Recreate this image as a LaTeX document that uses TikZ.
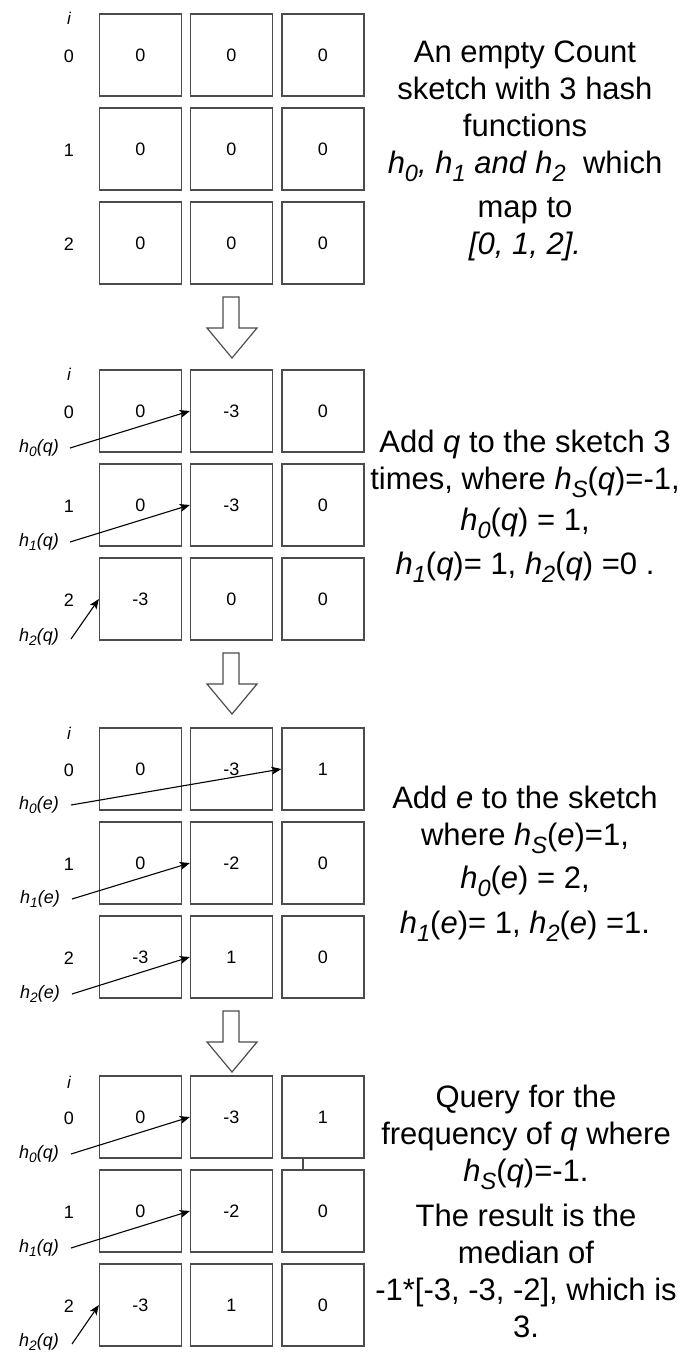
\documentclass[tikz,border=0pt]{standalone}
\usepackage{fontspec}
\setmainfont{Liberation Sans}
\usetikzlibrary{arrows.meta}
\newcommand\sbx[1]{\raisebox{-0.26em}{\scalebox{0.76}{#1}}}
\newcommand\hh[1]{\textit{h}\sbx{\textit{#1}}}
\newcommand\gridrow[6]{%
  \node[cell] (#1#2a) at (140.5,#3) {#4};
  \node[cell] (#1#2b) at (231.5,#3) {#5};
  \node[cell] (#1#2c) at (323,#3) {#6};
  \node[rowlab] (#1#2l) at (69,#3+1) {#2};
}
\newcommand\flowarrow[2]{%
  \draw[flow] (223,#2) -- (239,#2) -- (239,#2+31) -- (257,#2+31) -- (232,#2+61)
    -- (207,#2+31) -- (223,#2+31) -- cycle;
  \coordinate (#1) at (232,#2+61);
}
\begin{document}
\begin{tikzpicture}[x=1pt,y=-1pt,
  cell/.style={draw=black!70, line width=1.3pt, minimum width=82pt, minimum height=82pt,
    inner sep=0pt, font=\fontsize{18}{20}\selectfont},
  rowlab/.style={inner sep=0pt, font=\fontsize{18}{20}\selectfont},
  ilab/.style={inner sep=0pt, font=\fontsize{17}{20}\selectfont\itshape},
  hlab/.style={inner sep=0pt, anchor=east, font=\fontsize{18}{20}\selectfont\itshape},
  conn/.style={line width=1.1pt, -{Stealth[length=10pt,width=8pt,inset=2.5pt]}},
  flow/.style={draw=black!70, line width=1.2pt, fill=white, line join=miter},
  desc/.style={align=center, inner sep=0pt, anchor=north, font=\fontsize{31}{37}\selectfont}]
\useasboundingbox (0,0) rectangle (686,1352);

% ---------- section A ----------
\node[ilab] (Ai) at (69,18) {i};
\gridrow{A}{0}{55}{0}{0}{0}
\gridrow{A}{1}{149}{0}{0}{0}
\gridrow{A}{2}{243}{0}{0}{0}
\node[desc] (Adesc) at (525,41) {An empty Count\\
sketch with 3 hash\\
functions\\
\hh{0}\textit{, }\hh{1}\textit{ and }\hh{2}\ \ which\\[7pt]
map to\\
\textit{[0, 1, 2].}};

\flowarrow{F1}{297}

% ---------- section B ----------
\node[ilab] (Bi) at (69,374) {i};
\gridrow{B}{0}{411}{0}{-3}{0}
\gridrow{B}{1}{505}{0}{-3}{0}
\gridrow{B}{2}{599}{-3}{0}{0}
\node[hlab] (Bh0) at (59,448) {h\sbx{0}(q)};
\node[hlab] (Bh1) at (59,542) {h\sbx{1}(q)};
\node[hlab] (Bh2) at (59,637) {h\sbx{2}(q)};
\draw[conn] ([xshift=11pt]Bh0.east) -- (B0b.west);
\draw[conn] ([xshift=11pt]Bh1.east) -- (B1b.west);
\draw[conn] ([xshift=12pt,yshift=-2pt]Bh2.east) -- (B2a.west);
\node[desc] (Bdesc) at (525,429.5) {Add \textit{q} to the sketch 3\\
times, where \hh{S}(\textit{q})=-1,\\[4pt]
\hh{0}(\textit{q}) = 1,\\[7pt]
\hh{1}(\textit{q})= 1, \hh{2}(\textit{q}) =0 .};

\flowarrow{F2}{653}

% ---------- section C ----------
\node[ilab] (Ci) at (69,733) {i};
\gridrow{C}{0}{769}{0}{-3}{1}
\gridrow{C}{1}{863}{0}{-2}{0}
\gridrow{C}{2}{957}{-3}{1}{0}
\node[hlab] (Ch0) at (59,805) {h\sbx{0}(e)};
\node[hlab] (Ch1) at (60,899) {h\sbx{1}(e)};
\node[hlab] (Ch2) at (60,994) {h\sbx{2}(e)};
\draw[conn] ([xshift=12pt]Ch0.east) -- (C0c.west);
\draw[conn] ([xshift=12pt]Ch1.east) -- (C1b.west);
\draw[conn] ([xshift=12pt]Ch2.east) -- (C2b.west);
\node[desc] (Cdesc) at (525,785.5) {Add \textit{e} to the sketch\\
where \hh{S}(\textit{e})=1,\\[6pt]
\hh{0}(\textit{e}) = 2,\\[8pt]
\hh{1}(\textit{e})= 1, \hh{2}(\textit{e}) =1.};

\flowarrow{F3}{1011}

% ---------- section D ----------
\node[ilab] (Di) at (69,1082) {i};
\gridrow{D}{0}{1117}{0}{-3}{1}
\gridrow{D}{1}{1211}{0}{-2}{0}
\gridrow{D}{2}{1305}{-3}{1}{0}
\draw[draw=black!70, line width=1.2pt] ([xshift=-20pt]D0c.south) -- ([xshift=-20pt]D1c.north);
\node[hlab] (Dh0) at (59,1154) {h\sbx{0}(q)};
\node[hlab] (Dh1) at (59,1248) {h\sbx{1}(q)};
\node[hlab] (Dh2) at (59,1342) {h\sbx{2}(q)};
\draw[conn] ([xshift=12pt]Dh0.east) -- (D0b.west);
\draw[conn] ([xshift=12pt]Dh1.east) -- (D1b.west);
\draw[conn] ([xshift=13pt,yshift=-2pt]Dh2.east) -- (D2a.west);
\node[desc] (Ddesc) at (526,1084.5) {Query for the\\
frequency of \textit{q} where\\
\hh{S}(\textit{q})=-1.\\[8pt]
The result is the\\
median of\\
-1*[-3, -3, -2], which is\\
3.};
\end{tikzpicture}
\end{document}
